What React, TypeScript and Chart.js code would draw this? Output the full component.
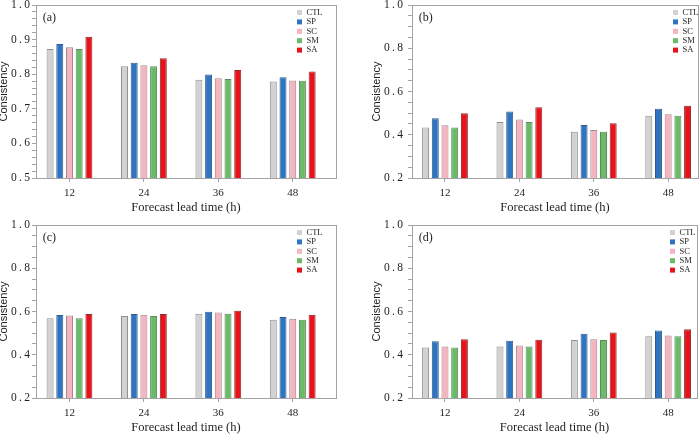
import React, { useEffect, useRef } from 'react';
import { Chart, registerables } from 'chart.js';

Chart.register(...registerables);

const SERIF = "'Liberation Serif', 'Times New Roman', serif";
const SANS = "'Liberation Sans', Arial, sans-serif";
const FRAME = '#a3a3a3';
const TEXT = '#1e1e1e';

// ---- data ----
const leadTimes = [12, 24, 36, 48];
const seriesNames = ['CTL', 'SP', 'SC', 'SM', 'SA'];
const seriesFill = ['#d2d2d2', '#2f74c0', '#f5b4c0', '#69bb69', '#e8121b'];
const seriesEdge = ['#8f8f8f', '#35598a', '#9b8a8d', '#5f8a5f', '#8a2a2a'];

const ctlA = [0.873, 0.823, 0.784, 0.779];
const spA = [0.887, 0.833, 0.799, 0.791];
const scA = [0.878, 0.826, 0.788, 0.782];
const smA = [0.873, 0.823, 0.786, 0.781];
const saA = [0.908, 0.846, 0.812, 0.808];

const ctlB = [0.434, 0.459, 0.414, 0.488];
const spB = [0.476, 0.508, 0.445, 0.52];
const scB = [0.444, 0.47, 0.422, 0.495];
const smB = [0.434, 0.459, 0.414, 0.488];
const saB = [0.499, 0.527, 0.453, 0.534];

const ctlC = [0.569, 0.579, 0.59, 0.562];
const spC = [0.584, 0.588, 0.599, 0.575];
const scC = [0.581, 0.585, 0.595, 0.567];
const smC = [0.569, 0.579, 0.59, 0.562];
const saC = [0.588, 0.588, 0.604, 0.585];

const ctlD = [0.434, 0.438, 0.468, 0.486];
const spD = [0.462, 0.465, 0.497, 0.512];
const scD = [0.438, 0.443, 0.472, 0.489];
const smD = [0.434, 0.438, 0.468, 0.486];
const saD = [0.472, 0.469, 0.503, 0.518];

const yMajorA = [0.5, 0.6, 0.7, 0.8, 0.9, 1.0];
const yMajorB = [0.2, 0.4, 0.6, 0.8, 1.0];
const yMinorStepA = 0.02;
const yMinorStepB = 0.05;

const xTitle = 'Forecast lead time (h)';
const yTitle = 'Consistency';

type PanelCfg = {
  tag: string;
  series: number[][];
  yMajor: number[];
  minorStep: number;
  left: number;
  top: number;
  w: number;
  h: number;
  yWidth: number;
  padRight: number;
  xHeight: number;
  xMin: number;
  xMax: number;
  yTitlePad: number;
  yTickPad: number;
  xTitlePad: number;
  legendX: number;
};

const panels: PanelCfg[] = [
  {
    tag: '(a)', series: [ctlA, spA, scA, smA, saA], yMajor: yMajorA, minorStep: yMinorStepA,
    left: 0, top: 0, w: 350, h: 220, yWidth: 36, padRight: 14, xHeight: 42,
    xMin: 6.6, xMax: 54.98, yTitlePad: -3, yTickPad: 2, xTitlePad: 4.8, legendX: 261,
  },
  {
    tag: '(b)', series: [ctlB, spB, scB, smB, saB], yMajor: yMajorB, minorStep: yMinorStepB,
    left: 350, top: 0, w: 350, h: 220, yWidth: 62, padRight: 2, xHeight: 42,
    xMin: 6.68, xMax: 52.81, yTitlePad: 20.4, yTickPad: 5, xTitlePad: 4.8, legendX: 261,
  },
  {
    tag: '(c)', series: [ctlC, spC, scC, smC, saC], yMajor: yMajorB, minorStep: yMinorStepB,
    left: 0, top: 220, w: 350, h: 221, yWidth: 36, padRight: 14, xHeight: 43,
    xMin: 6.6, xMax: 54.98, yTitlePad: -3, yTickPad: 2, xTitlePad: 5.8, legendX: 261,
  },
  {
    tag: '(d)', series: [ctlD, spD, scD, smD, saD], yMajor: yMajorB, minorStep: yMinorStepB,
    left: 350, top: 220, w: 350, h: 221, yWidth: 62, padRight: 3, xHeight: 43,
    xMin: 6.68, xMax: 52.65, yTitlePad: 20.4, yTickPad: 5, xTitlePad: 5.8, legendX: 258,
  },
];

const decorPlugin = {
  id: 'decor',
  afterDatasetsDraw(chart: any, _args: any, opts: any) {
    const { ctx, chartArea: a } = chart;
    ctx.save();
    ctx.strokeStyle = FRAME;
    ctx.lineWidth = 1;
    ctx.strokeRect(
      Math.round(a.left) + 0.5,
      Math.round(a.top) + 0.5,
      Math.round(a.right - a.left),
      Math.round(a.bottom - a.top)
    );
    ctx.fillStyle = TEXT;
    ctx.font = `12px ${SERIF}`;
    ctx.textBaseline = 'middle';
    ctx.textAlign = 'left';
    ctx.fillText(opts.tag, a.left + 6.7, a.top + 12.5);
    ctx.font = `8.5px ${SERIF}`;
    chart.data.datasets.forEach((ds: any, i: number) => {
      const cy = a.top + 7.5 + i * 9.4;
      const bx = a.left + opts.legendX;
      ctx.fillStyle = ds.backgroundColor;
      ctx.fillRect(bx, cy - 2.5, 5, 5);
      ctx.fillStyle = TEXT;
      ctx.fillText(ds.label, bx + 9.5, cy);
    });
    ctx.restore();
  },
};

function fmtTick(v: number) {
  return v.toFixed(1).split('').join('\u2009');
}

function Panel({ cfg }: { cfg: PanelCfg }) {
  const ref = useRef<HTMLCanvasElement>(null);
  useEffect(() => {
    const yMin = cfg.yMajor[0];
    const yMax = cfg.yMajor[cfg.yMajor.length - 1];
    const majorStep = cfg.yMajor[1] - cfg.yMajor[0];
    const chart = new Chart(ref.current!, {
      type: 'bar',
      data: {
        datasets: seriesNames.map((name, s) => ({
          label: name,
          data: leadTimes.map((x, i) => ({ x, y: cfg.series[s][i] })),
          backgroundColor: seriesFill[s],
          borderColor: seriesEdge[s],
          borderWidth: 1,
          categoryPercentage: 0.652,
          barPercentage: 0.72,
        })),
      },
      options: {
        responsive: false,
        animation: false,
        layout: { padding: { left: 0, top: 5, right: cfg.padRight, bottom: 0 } },
        plugins: {
          legend: { display: false },
          tooltip: { enabled: false },
          decor: { tag: cfg.tag, legendX: cfg.legendX },
        } as any,
        scales: {
          x: {
            type: 'linear',
            min: cfg.xMin,
            max: cfg.xMax,
            offset: false,
            afterBuildTicks: (scale: any) => {
              scale.ticks = leadTimes.map((v) => ({ value: v }));
            },
            afterFit: (scale: any) => {
              scale.height = cfg.xHeight;
              scale.paddingLeft = 0;
              scale.paddingRight = 0;
              scale.paddingTop = 0;
              scale.paddingBottom = 0;
            },
            grid: {
              display: true,
              drawOnChartArea: false,
              drawTicks: true,
              tickLength: 4,
              tickColor: FRAME,
              offset: false,
            },
            border: { display: false },
            ticks: {
              autoSkip: false,
              maxRotation: 0,
              padding: 4.4,
              color: TEXT,
              font: { family: SERIF, size: 11 },
              callback: (v: any) => String(v),
            },
            title: {
              display: true,
              text: xTitle,
              color: TEXT,
              font: { family: SERIF, size: 12.5 },
              padding: { top: 0, bottom: cfg.xTitlePad },
            },
          },
          y: {
            type: 'linear',
            min: yMin,
            max: yMax,
            afterBuildTicks: (scale: any) => {
              const t: { value: number }[] = [];
              const n = Math.round((yMax - yMin) / cfg.minorStep);
              for (let i = 0; i <= n; i++) {
                t.push({ value: Math.round((yMin + i * cfg.minorStep) * 1000) / 1000 });
              }
              scale.ticks = t;
            },
            afterFit: (scale: any) => {
              scale.width = cfg.yWidth;
              scale.paddingLeft = 0;
              scale.paddingRight = 0;
              scale.paddingTop = 0;
              scale.paddingBottom = 0;
            },
            grid: {
              display: true,
              drawOnChartArea: false,
              drawTicks: true,
              tickLength: 4,
              tickColor: FRAME,
            },
            border: { display: false },
            ticks: {
              autoSkip: false,
              padding: cfg.yTickPad,
              color: TEXT,
              font: { family: SERIF, size: 11.5 },
              callback: (v: any) => {
                const val = Number(v);
                const k = (val - yMin) / majorStep;
                return Math.abs(k - Math.round(k)) < 1e-6 ? fmtTick(val) : '';
              },
            },
            title: {
              display: true,
              text: yTitle,
              color: TEXT,
              font: { family: SANS, size: 11 },
              padding: { top: cfg.yTitlePad, bottom: 0 },
            },
          },
        },
      },
      plugins: [decorPlugin],
    } as any);
    return () => chart.destroy();
  }, [cfg]);
  return (
    <canvas
      ref={ref}
      width={cfg.w}
      height={cfg.h}
      style={{ position: 'absolute', left: cfg.left, top: cfg.top, width: cfg.w, height: cfg.h }}
    />
  );
}

export default function App() {
  useEffect(() => {
    document.body.style.margin = '0';
  }, []);
  return (
    <div style={{ position: 'relative', width: 700, height: 441, background: '#fff', overflow: 'hidden' }}>
      {panels.map((p) => (
        <Panel key={p.tag} cfg={p} />
      ))}
    </div>
  );
}
